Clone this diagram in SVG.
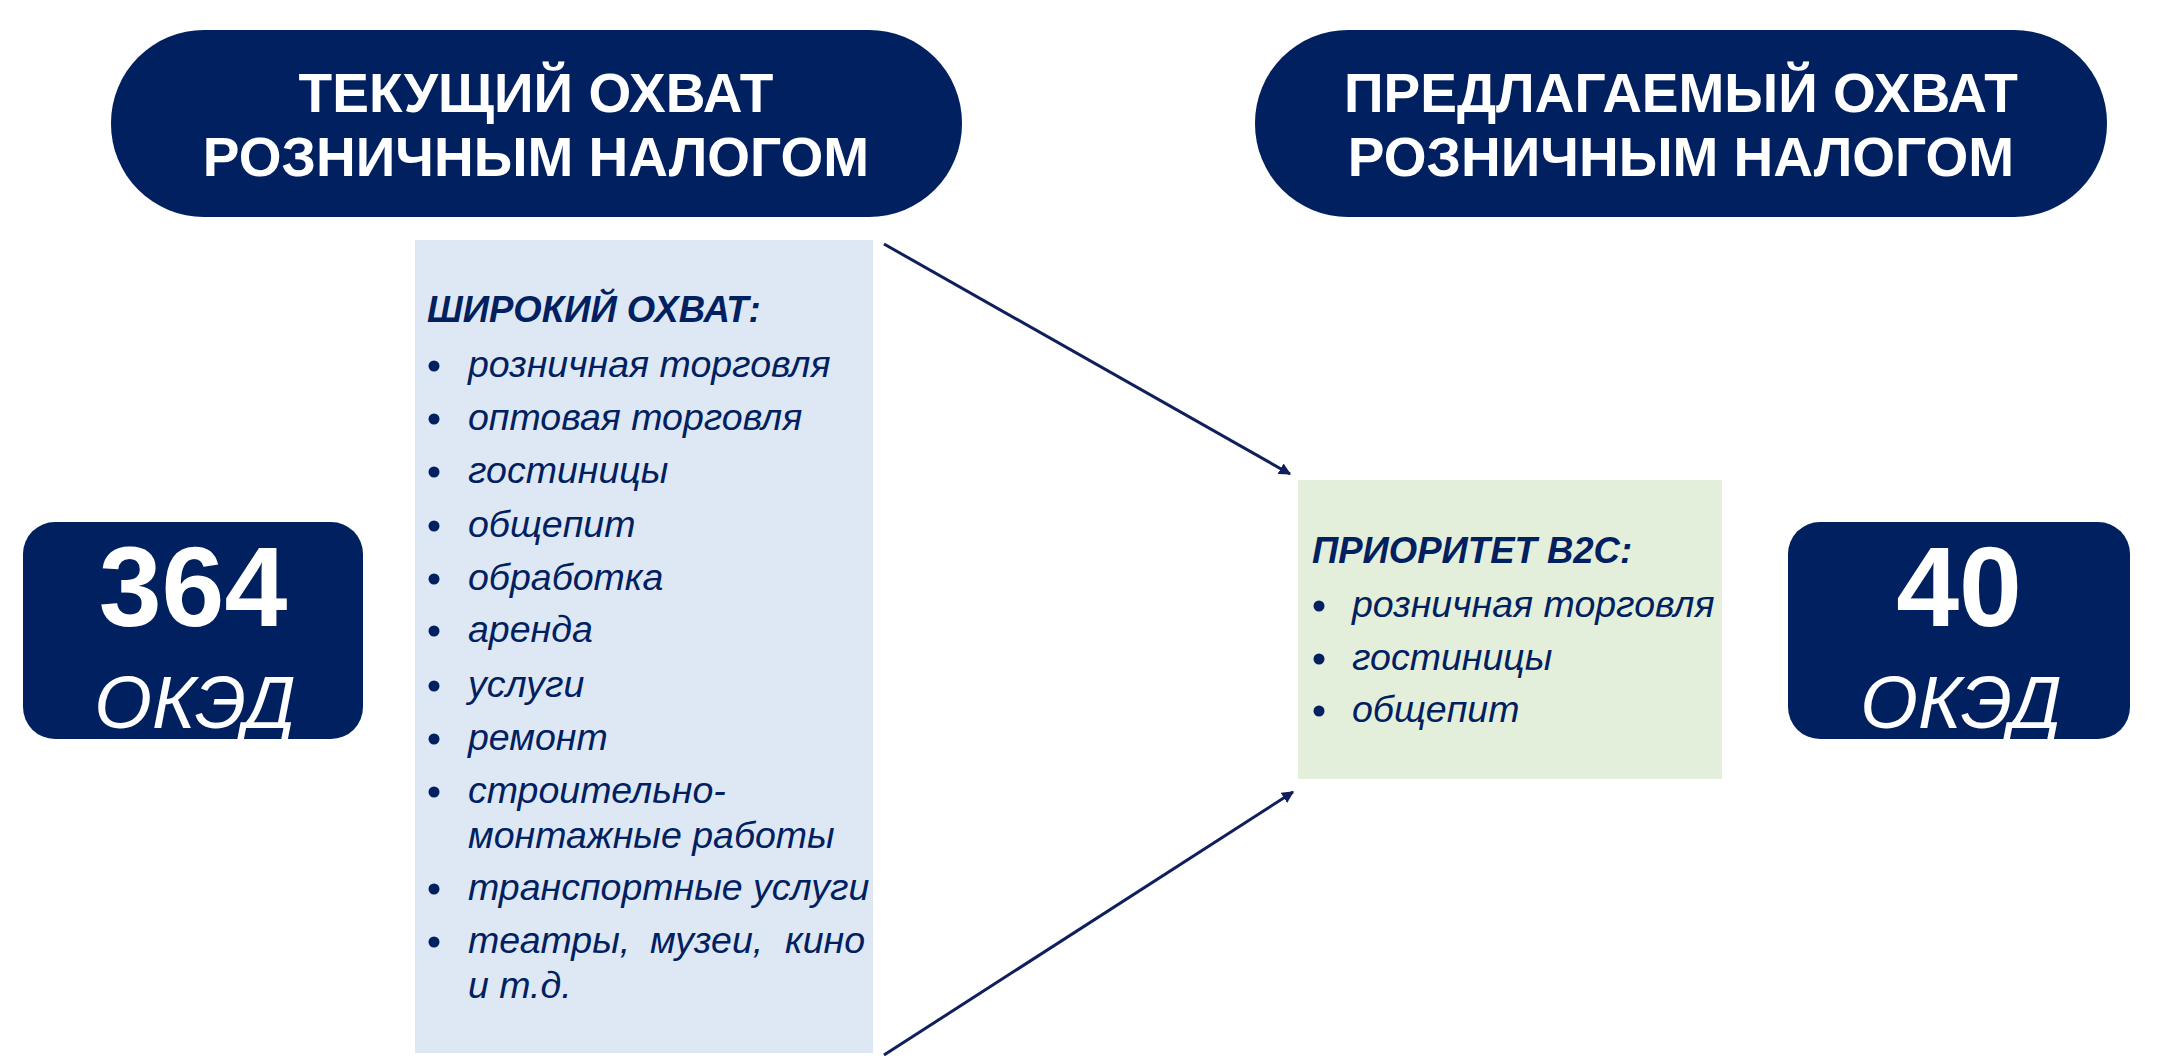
<svg xmlns="http://www.w3.org/2000/svg" width="2160" height="1063" viewBox="0 0 2160 1063">
<defs>
<style>
.navy{fill:#002060}
.hdr{font-family:"Liberation Sans",Arial,sans-serif;font-weight:bold;font-size:55px;fill:#ffffff;text-anchor:middle}
.num{font-family:"Liberation Sans",Arial,sans-serif;font-weight:bold;font-size:113px;fill:#ffffff;text-anchor:middle}
.okd{font-family:"Liberation Sans",Arial,sans-serif;font-style:italic;font-size:74px;fill:#ffffff;text-anchor:middle}
.ttl{font-family:"Liberation Sans",Arial,sans-serif;font-weight:bold;font-style:italic;font-size:36.5px;fill:#002060}
.itm{font-family:"Liberation Sans",Arial,sans-serif;font-style:italic;font-size:37.5px;fill:#002060}
.bul{fill:#002060}
.conn{stroke:#0F1F5C;stroke-width:3;fill:none}
</style>
<marker id="ah" viewBox="0 0 10 10" refX="9" refY="5" markerWidth="4" markerHeight="4" orient="auto" markerUnits="strokeWidth">
<path d="M0,0 L10,5 L0,10 Z" fill="#0F1F5C"/>
</marker>
</defs>
<rect width="2160" height="1063" fill="#ffffff"/>

<g id="header-current">
<rect class="navy" x="111" y="30" width="851" height="187" rx="93" ry="93"/>
<text class="hdr" x="536" y="112">ТЕКУЩИЙ ОХВАТ</text>
<text class="hdr" x="536" y="176">РОЗНИЧНЫМ НАЛОГОМ</text>
</g>

<g id="header-proposed">
<rect class="navy" x="1255" y="30" width="852" height="187" rx="93" ry="93"/>
<text class="hdr" x="1681" y="112">ПРЕДЛАГАЕМЫЙ ОХВАТ</text>
<text class="hdr" x="1681" y="176">РОЗНИЧНЫМ НАЛОГОМ</text>
</g>

<g id="count-current">
<rect class="navy" x="23" y="522" width="340" height="217" rx="32" ry="32"/>
<text class="num" x="193" y="626">364</text>
<text class="okd" x="195" y="728">ОКЭД</text>
</g>

<g id="count-proposed">
<rect class="navy" x="1788" y="522" width="342" height="217" rx="32" ry="32"/>
<text class="num" x="1959" y="626">40</text>
<text class="okd" x="1961" y="728">ОКЭД</text>
</g>

<g id="list-current">
<rect x="415" y="240" width="458" height="813" fill="#DEE8F5"/>
<text class="ttl" x="427" y="322">ШИРОКИЙ ОХВАТ:</text>
<g class="bul">
<circle cx="434" cy="366" r="5.5"/>
<circle cx="434" cy="419" r="5.5"/>
<circle cx="434" cy="472" r="5.5"/>
<circle cx="434" cy="526" r="5.5"/>
<circle cx="434" cy="579" r="5.5"/>
<circle cx="434" cy="631" r="5.5"/>
<circle cx="434" cy="686" r="5.5"/>
<circle cx="434" cy="739" r="5.5"/>
<circle cx="434" cy="792" r="5.5"/>
<circle cx="434" cy="889" r="5.5"/>
<circle cx="434" cy="942" r="5.5"/>
</g>
<text class="itm" x="468" y="377">розничная торговля</text>
<text class="itm" x="468" y="430">оптовая торговля</text>
<text class="itm" x="468" y="483">гостиницы</text>
<text class="itm" x="468" y="537">общепит</text>
<text class="itm" x="468" y="590">обработка</text>
<text class="itm" x="468" y="642">аренда</text>
<text class="itm" x="468" y="697">услуги</text>
<text class="itm" x="468" y="750">ремонт</text>
<text class="itm" x="468" y="803">строительно-</text>
<text class="itm" x="468" y="848">монтажные работы</text>
<text class="itm" x="468" y="900">транспортные услуги</text>
<text class="itm" y="953"><tspan x="468">театры,</tspan><tspan x="650">музеи,</tspan><tspan x="785">кино</tspan></text>
<text class="itm" x="468" y="998">и т.д.</text>
</g>

<g id="list-proposed">
<rect x="1298" y="480" width="424" height="299" fill="#E4EFDB"/>
<text class="ttl" x="1312" y="563">ПРИОРИТЕТ В2С:</text>
<g class="bul">
<circle cx="1319" cy="606" r="5.5"/>
<circle cx="1319" cy="659" r="5.5"/>
<circle cx="1319" cy="711" r="5.5"/>
</g>
<text class="itm" x="1352" y="617">розничная торговля</text>
<text class="itm" x="1352" y="670">гостиницы</text>
<text class="itm" x="1352" y="722">общепит</text>
</g>

<g id="connectors">
<line class="conn" x1="884" y1="244" x2="1290" y2="474" marker-end="url(#ah)"/>
<line class="conn" x1="884" y1="1055" x2="1293" y2="792" marker-end="url(#ah)"/>
</g>
</svg>
